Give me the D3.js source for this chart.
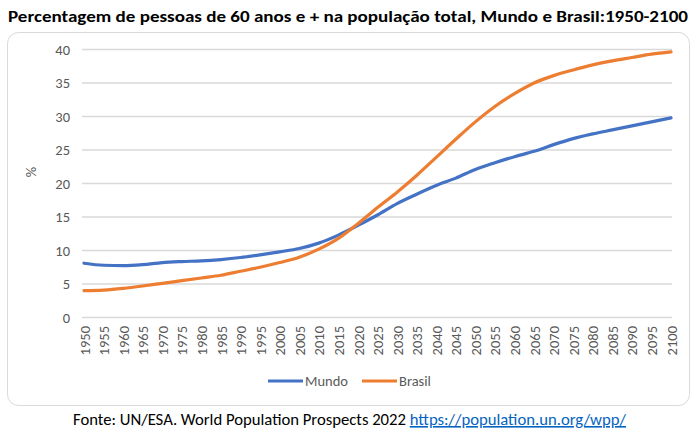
<!DOCTYPE html>
<html>
<head>
<meta charset="utf-8">
<script src="https://cdn.jsdelivr.net/npm/d3@7"></script>
<style>
  html, body { margin: 0; padding: 0; background: #fff; }
  svg { display: block; }
</style>
</head>
<body>
<div id="chart"></div>
<script>
// Years shown (5-year steps)
const years = [1950, 1955, 1960, 1965, 1970, 1975, 1980, 1985, 1990, 1995,
               2000, 2005, 2010, 2015, 2020, 2025, 2030, 2035, 2040, 2045,
               2050, 2055, 2060, 2065, 2070, 2075, 2080, 2085, 2090, 2095, 2100];

// % of population aged 60+
const mundo = [8.1, 7.8, 7.75, 7.9, 8.2, 8.35, 8.45, 8.65, 8.95, 9.35,
               9.8, 10.3, 11.1, 12.3, 13.75, 15.3, 17.0, 18.4, 19.7, 20.8,
               22.1, 23.1, 24.0, 24.8, 25.8, 26.7, 27.4, 28.0, 28.6, 29.2, 29.8];
const brasil = [4.0, 4.1, 4.35, 4.7, 5.1, 5.5, 5.9, 6.3, 6.9, 7.5,
                8.2, 9.0, 10.2, 11.8, 14.0, 16.4, 18.7, 21.2, 23.9, 26.6,
                29.2, 31.5, 33.4, 35.0, 36.1, 36.95, 37.7, 38.3, 38.8, 39.3, 39.65];

const yTicks = [0, 5, 10, 15, 20, 25, 30, 35, 40];
const xTicks = years;

const seriesNames = ["Mundo", "Brasil"];
const seriesColors = ["#4472c4", "#ed7d31"];

const W = 696, H = 432;
const fontFamily = "Carlito, Calibri, 'Open Sans', sans-serif";
const grey = "#595959";

const svg = d3.select("#chart").append("svg")
  .attr("width", W)
  .attr("height", H);

// title
svg.append("text")
  .attr("x", 8)
  .attr("y", 22)
  .attr("textLength", 680)
  .attr("lengthAdjust", "spacingAndGlyphs")
  .style("font-family", fontFamily)
  .style("font-weight", "bold")
  .style("font-size", "16px")
  .style("fill", "#000")
  .text("Percentagem de pessoas de 60 anos e + na população total, Mundo e Brasil:1950-2100");

// chart frame
svg.append("rect")
  .attr("x", 7.5)
  .attr("y", 32.5)
  .attr("width", 682)
  .attr("height", 373)
  .attr("rx", 11)
  .attr("fill", "#fff")
  .attr("stroke", "#d9d9d9");

const x = d3.scaleLinear().domain([1950, 2100]).range([84, 671]);
const y = d3.scaleLinear().domain([0, 40]).range([317.5, 49.5]);

// gridlines
svg.append("g")
  .selectAll("line")
  .data(yTicks)
  .join("line")
  .attr("x1", 82)
  .attr("x2", 672)
  .attr("y1", d => y(d))
  .attr("y2", d => y(d))
  .attr("stroke", "#d9d9d9")
  .attr("stroke-width", 1.3);

// y axis labels
const yAxis = svg.append("g")
  .attr("transform", "translate(70,0)")
  .call(d3.axisLeft(y).tickValues(yTicks).tickSize(0).tickPadding(0));
yAxis.select(".domain").remove();
yAxis.selectAll("text")
  .style("font-family", fontFamily)
  .style("font-size", "14.5px")
  .style("fill", grey);

// x axis labels (rotated)
const xAxis = svg.append("g")
  .attr("transform", "translate(0,323)")
  .call(d3.axisBottom(x).tickValues(xTicks).tickSize(0).tickFormat(d3.format("d")));
xAxis.select(".domain").remove();
xAxis.selectAll("text")
  .attr("transform", "rotate(-90)")
  .attr("text-anchor", "end")
  .attr("x", -3)
  .attr("y", 0)
  .attr("dy", "0.35em")
  .style("font-family", fontFamily)
  .style("font-size", "14.5px")
  .style("fill", grey);

// y title
svg.append("text")
  .attr("transform", "translate(31,172) rotate(-90)")
  .attr("text-anchor", "middle")
  .attr("dy", "0.35em")
  .style("font-family", fontFamily)
  .style("font-size", "14.5px")
  .style("fill", grey)
  .text("%");

// lines
const line = d3.line()
  .x((d, i) => x(years[i]))
  .y(d => y(d))
  .curve(d3.curveMonotoneX);

[mundo, brasil].forEach((vals, k) => {
  svg.append("path")
    .datum(vals)
    .attr("d", line)
    .attr("fill", "none")
    .attr("stroke", seriesColors[k])
    .attr("stroke-width", 3.2)
    .attr("stroke-linejoin", "round")
    .attr("stroke-linecap", "round");
});

// legend
const legendX = [268, 362];
seriesNames.forEach((name, k) => {
  const g = svg.append("g").attr("transform", `translate(${legendX[k]},381)`);
  g.append("line")
    .attr("x1", 0).attr("x2", 35)
    .attr("y1", 0).attr("y2", 0)
    .attr("stroke", seriesColors[k])
    .attr("stroke-width", 3.2);
  g.append("text")
    .attr("x", 37)
    .attr("dy", "0.35em")
    .style("font-family", fontFamily)
    .style("font-size", "14.5px")
    .style("fill", grey)
    .text(name);
});

// source line
const src = svg.append("text")
  .attr("x", 73)
  .attr("y", 425)
  .attr("textLength", 553)
  .attr("lengthAdjust", "spacingAndGlyphs")
  .style("font-family", fontFamily)
  .style("font-size", "16px")
  .style("fill", "#000");
src.append("tspan").text("Fonte: UN/ESA. World Population Prospects 2022 ");
src.append("tspan")
  .style("fill", "#0563c1")
  .style("text-decoration", "underline")
  .text("https://population.un.org/wpp/");
</script>
</body>
</html>
